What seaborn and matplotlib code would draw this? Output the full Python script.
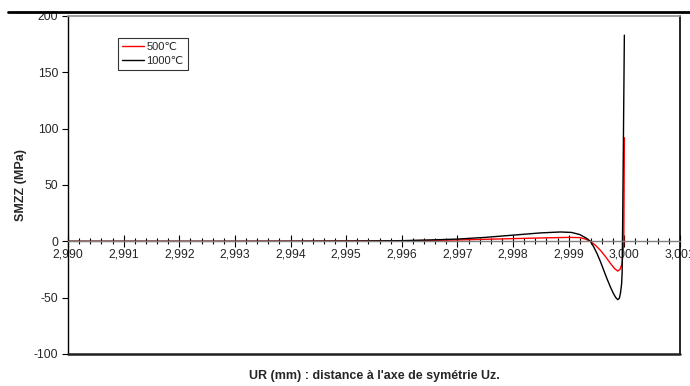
import matplotlib
matplotlib.use("Agg")
import matplotlib.pyplot as plt
from matplotlib.ticker import MultipleLocator, FuncFormatter
from matplotlib.lines import Line2D
import seaborn as sns
import pandas as pd

sns.set_style("white")
plt.rcParams['font.family'] = ['Liberation Sans', 'DejaVu Sans']

# ---- data ----
x_500 = [2.990, 2.991, 2.992, 2.993, 2.994, 2.995, 2.996, 2.9965, 2.997, 2.9975,
         2.998, 2.9985, 2.999, 2.9992, 2.9993, 2.99939, 2.99948, 2.99957, 2.99966,
         2.99975, 2.99982, 2.99988, 2.99992, 2.99996, 2.99999, 3.0000]
y_500 = [0.0, 0.0, 0.0, 0.0, 0.1, 0.3, 0.5, 0.8, 1.2, 1.8,
         2.4, 3.0, 3.5, 3.3, 2.0, 0.0, -3.5, -8.0, -13.5,
         -19.6, -24.0, -26.4, -25.0, -19.8, 0.0, 92.0]

x_1000 = [2.990, 2.991, 2.992, 2.993, 2.994, 2.995, 2.996, 2.9965, 2.997, 2.9975,
          2.998, 2.9985, 2.99885, 2.99905, 2.99920, 2.99933, 2.99939, 2.99945,
          2.99951, 2.99957, 2.99963, 2.99969, 2.99975, 2.99980, 2.99984, 2.99988,
          2.99991, 2.99993, 2.99995, 2.99996, 2.99997, 3.0000]
y_1000 = [0.0, 0.0, 0.0, 0.0, 0.1, 0.2, 0.6, 1.2, 2.0, 3.5,
          5.5, 7.5, 8.3, 7.9, 6.0, 2.4, 0.0, -5.0,
          -11.0, -18.0, -25.8, -33.5, -40.6, -46.0, -49.5, -51.8,
          -50.5, -46.0, -38.0, -28.0, 20.0, 183.0]

series_labels = ["500℃", "1000℃"]
series_colors = ["#ff0000", "#000000"]
x_ticks = [2.990, 2.991, 2.992, 2.993, 2.994, 2.995, 2.996, 2.997, 2.998, 2.999, 3.000, 3.001]
y_ticks = [-100, -50, 0, 50, 100, 150, 200]

df = pd.concat([
    pd.DataFrame({"x": x_500, "y": y_500, "serie": series_labels[0]}),
    pd.DataFrame({"x": x_1000, "y": y_1000, "serie": series_labels[1]}),
], ignore_index=True)

fig = plt.figure(figsize=(6.9, 3.86), dpi=100)
ax = fig.add_axes([68/690, 1-354/386, 612/690, 338/386])

sns.lineplot(data=df, x="x", y="y", hue="serie", hue_order=series_labels,
             palette=series_colors, estimator=None, sort=False, linewidth=1.0,
             ax=ax, legend=True)

ax.set_xlim(x_ticks[0], x_ticks[-1])
ax.set_ylim(y_ticks[0], y_ticks[-1])

# spines
ax.spines['bottom'].set_position(('data', 0))
ax.spines['bottom'].set_color('#808080')
ax.spines['bottom'].set_linewidth(1.0)
ax.spines['top'].set_color('#909090')
ax.spines['top'].set_linewidth(1.2)
ax.spines['left'].set_color('black')
ax.spines['left'].set_linewidth(1.0)
ax.spines['right'].set_color('black')
ax.spines['right'].set_linewidth(1.2)
ax.axhline(y_ticks[0], color='#202020', linewidth=1.8, clip_on=False, zorder=5)

ax.set_xticks(x_ticks)
ax.xaxis.set_minor_locator(MultipleLocator(0.0002))
ax.xaxis.set_major_formatter(FuncFormatter(lambda v, p: f"{v:.3f}".replace('.', ',')))
ax.set_yticks(y_ticks)
ax.yaxis.set_major_formatter(FuncFormatter(lambda v, p: f"{v:.0f}"))

ax.tick_params(axis='x', which='major', direction='inout', length=8, width=0.8,
               color='black', labelsize=8.7, pad=1, bottom=True)
ax.tick_params(axis='x', which='minor', direction='inout', length=5, width=0.8,
               color='black', bottom=True)
ax.tick_params(axis='y', which='major', direction='out', length=4, width=0.8,
               color='black', labelsize=8.7, pad=3, left=True)

ax.set_xlabel("UR (mm) : distance à l'axe de symétrie Uz.", fontsize=9,
              fontweight='bold', va='top')
ax.xaxis.set_label_coords(0.5, -0.048)
ax.set_ylabel("SMZZ (MPa)", fontsize=9, fontweight='bold', labelpad=5)

leg = ax.legend(loc='upper left', bbox_to_anchor=(0.082, 0.935), fontsize=8,
                frameon=True, fancybox=False, edgecolor='black',
                handlelength=2.0, handletextpad=0.2, borderpad=0.35,
                labelspacing=0.35, borderaxespad=0)
leg.get_frame().set_linewidth(0.8)
leg.set_title(None)

# thick rule above the chart
fig.add_artist(Line2D([8/690, 1.0], [1-12/386, 1-12/386], color='black',
                      linewidth=2.0, transform=fig.transFigure))

fig.savefig("out.png", dpi=100)
